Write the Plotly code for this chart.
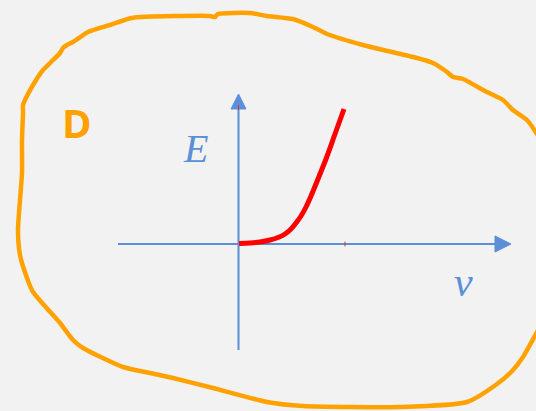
import plotly.graph_objects as go

# Blob outline (pixel coordinates of the hand-drawn region D), open where it leaves the picture
blob_x = [543, 537, 523, 513, 497, 467, 400, 303, 267, 213, 173, 150, 123, 83,
          73, 60, 33, 27, 20, 18, 20, 22, 22, 23, 23, 25, 33, 43, 50, 60, 63, 67, 73, 88,
          110, 132, 210, 215, 218, 250, 267, 293, 313, 327, 363, 417, 433, 447, 453, 463,
          476, 487, 503, 513, 527, 537, 543]
blob_y = [321, 332, 357, 370, 384, 402, 407, 406, 402, 388, 378, 373, 367, 348,
          340, 323, 292, 278, 255, 230, 200, 173, 140, 113, 105, 100, 85, 70, 63, 53, 48, 45, 42, 32,
          25, 18, 16, 17, 14, 13, 16, 19, 27, 34, 45, 58, 63, 72, 77, 79,
          86, 92, 100, 110, 120, 134, 144]

# Red curve E(v)
curve_x = [239, 250, 260, 270, 278, 285, 291, 296, 301, 306, 311, 318, 326, 335, 344]
curve_y = [243.5, 243, 242, 240, 237.5, 234, 229, 223, 216, 207, 196, 179, 159, 134, 109]

# Axes
h_axis_x = [118, 497]
h_axis_y = [244, 244]
v_axis_x = [238.5, 238.5]
v_axis_y = [350, 107]
h_head_x = [495, 511, 495, 495]
h_head_y = [236, 244, 252, 236]
v_head_x = [231, 238.5, 246, 231]
v_head_y = [109, 94, 109, 109]

labels = ["D", "E", "v"]

AX = "#5b8fd8"
ORANGE = "#ffa200"

fig = go.Figure()
fig.add_trace(go.Scatter(x=blob_x, y=blob_y, mode="lines",
                         line=dict(color=ORANGE, width=4.5, shape="spline", smoothing=0.6),
                         hoverinfo="skip"))
fig.add_trace(go.Scatter(x=h_axis_x, y=h_axis_y, mode="lines", line=dict(color=AX, width=2)))
fig.add_trace(go.Scatter(x=v_axis_x, y=v_axis_y, mode="lines", line=dict(color=AX, width=2)))
fig.add_trace(go.Scatter(x=h_head_x, y=h_head_y, mode="lines", fill="toself",
                         fillcolor=AX, line=dict(color=AX, width=1)))
fig.add_trace(go.Scatter(x=v_head_x, y=v_head_y, mode="lines", fill="toself",
                         fillcolor=AX, line=dict(color=AX, width=1)))
# small red ticks
fig.add_trace(go.Scatter(x=[345, 345], y=[241.5, 246.5], mode="lines",
                         line=dict(color="#e03030", width=1)))
fig.add_trace(go.Scatter(x=[238.5, 238.5], y=[105, 110], mode="lines",
                         line=dict(color="#e03030", width=1)))
fig.add_trace(go.Scatter(x=curve_x, y=curve_y, mode="lines",
                         line=dict(color="#ff0000", width=5, shape="spline", smoothing=0.8),
                         hoverinfo="skip"))

fig.add_annotation(x=77, y=122, text="<b>" + labels[0] + "</b>", showarrow=False,
                   font=dict(family="Open Sans, Noto Sans, sans-serif", size=40, color=ORANGE))
fig.add_annotation(x=195, y=148, text="<i>" + labels[1] + "</i>", showarrow=False,
                   font=dict(family="Liberation Serif, serif", size=40, color=AX))
fig.add_annotation(x=463, y=282, text="<i>" + labels[2] + "</i>", showarrow=False,
                   font=dict(family="Liberation Serif, serif", size=42, color=AX))

fig.update_layout(width=536, height=411, margin=dict(l=0, r=0, t=0, b=0),
                  paper_bgcolor="#f2f2f2", plot_bgcolor="#f2f2f2", showlegend=False)
fig.update_xaxes(range=[0, 536], visible=False, fixedrange=True)
fig.update_yaxes(range=[411, 0], visible=False, fixedrange=True)
fig.write_html("out.html", config={"displayModeBar": False},
               post_script="document.body.style.margin='0';document.body.style.background='#f2f2f2';")
